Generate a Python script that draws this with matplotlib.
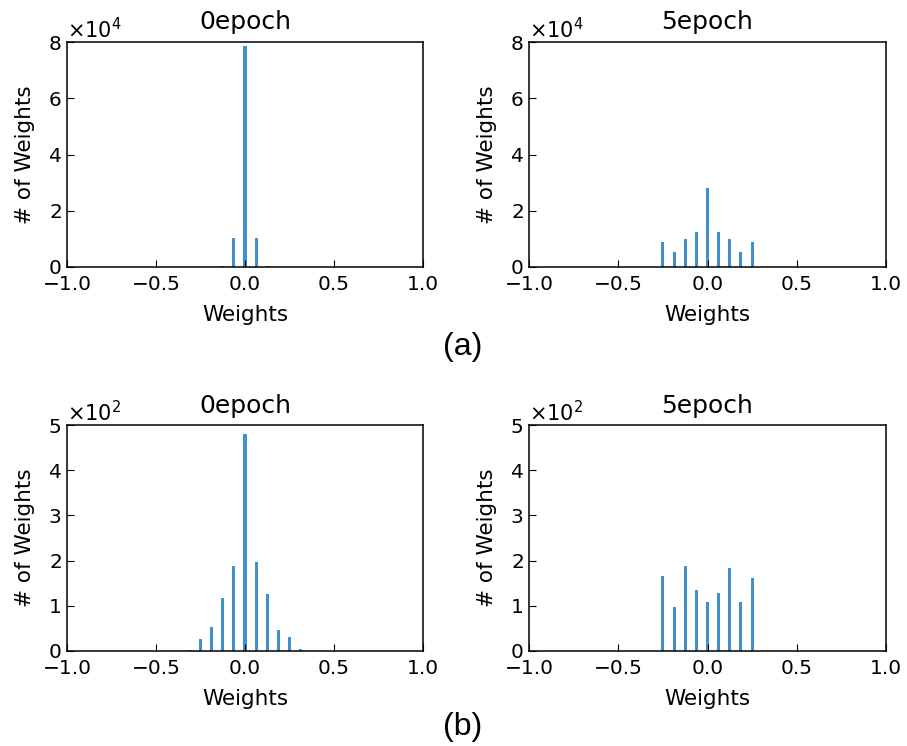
import matplotlib
matplotlib.use("Agg")
import matplotlib.pyplot as plt
import numpy as np

# bin centres (multiples of 1/16)
centers_a = [-0.1875, -0.125, -0.0625, 0.0, 0.0625, 0.125, 0.1875]
counts_a0 = [40, 300, 10400, 78700, 10400, 300, 40]
centers_a5 = [-0.25, -0.1875, -0.125, -0.0625, 0.0, 0.0625, 0.125, 0.1875, 0.25]
counts_a5 = [8900, 5200, 9900, 12300, 28200, 12300, 9800, 5200, 8900]

centers_b0 = [-0.375, -0.3125, -0.25, -0.1875, -0.125, -0.0625, 0.0, 0.0625,
              0.125, 0.1875, 0.25, 0.3125, 0.375]
counts_b0 = [1, 2, 26, 52, 117, 187, 479, 198, 126, 46, 32, 4, 1]
centers_b5 = [-0.3125, -0.25, -0.1875, -0.125, -0.0625, 0.0, 0.0625, 0.125, 0.1875, 0.25]
counts_b5 = [1, 167, 98, 187, 135, 108, 129, 183, 109, 161]

titles = ["0epoch", "5epoch"]
xticks = [-1.0, -0.5, 0.0, 0.5, 1.0]

fig = plt.figure(figsize=(9.07, 7.46), dpi=100)
W, H = 907, 746

def make_ax(l, r, t, b):
    return fig.add_axes([l / W, 1 - b / H, (r - l) / W, (b - t) / H])

axes = [make_ax(67, 423, 42, 267), make_ax(529, 886, 42, 267),
        make_ax(67, 423, 425, 651), make_ax(529, 886, 425, 651)]
data = [(centers_a, counts_a0, 8e4, 4), (centers_a5, counts_a5, 8e4, 4),
        (centers_b0, counts_b0, 5e2, 2), (centers_b5, counts_b5, 5e2, 2)]

for i, (ax, (c, n, ymax, exp)) in enumerate(zip(axes, data)):
    ax.bar(c, n, width=0.017, color='#2a84c6', alpha=0.9)
    ax.set_xlim(-1, 1)
    ax.set_ylim(0, ymax)
    ax.set_xticks(xticks)
    ax.ticklabel_format(axis='y', style='sci', scilimits=(exp, exp), useMathText=True)
    ax.tick_params(direction='in', labelsize=14.5, length=5)
    ax.tick_params(axis='x', pad=5.5)
    ax.tick_params(axis='y', pad=4)
    ax.yaxis.get_offset_text().set_fontsize(15)
    for s in ax.spines.values():
        s.set_linewidth(1.1)
    ax.set_title(titles[i % 2], fontsize=18, pad=9)
    ax.set_xlabel("Weights", fontsize=15.5, labelpad=8)
    ax.set_ylabel("# of Weights", fontsize=15.5, labelpad=9)

fig.text(463 / W, 1 - 347 / H, "(a)", fontsize=23, family='Liberation Sans',
         ha='center', va='center')
fig.text(463 / W, 1 - 727 / H, "(b)", fontsize=23, family='Liberation Sans',
         ha='center', va='center')

fig.savefig("out.png", dpi=100)
